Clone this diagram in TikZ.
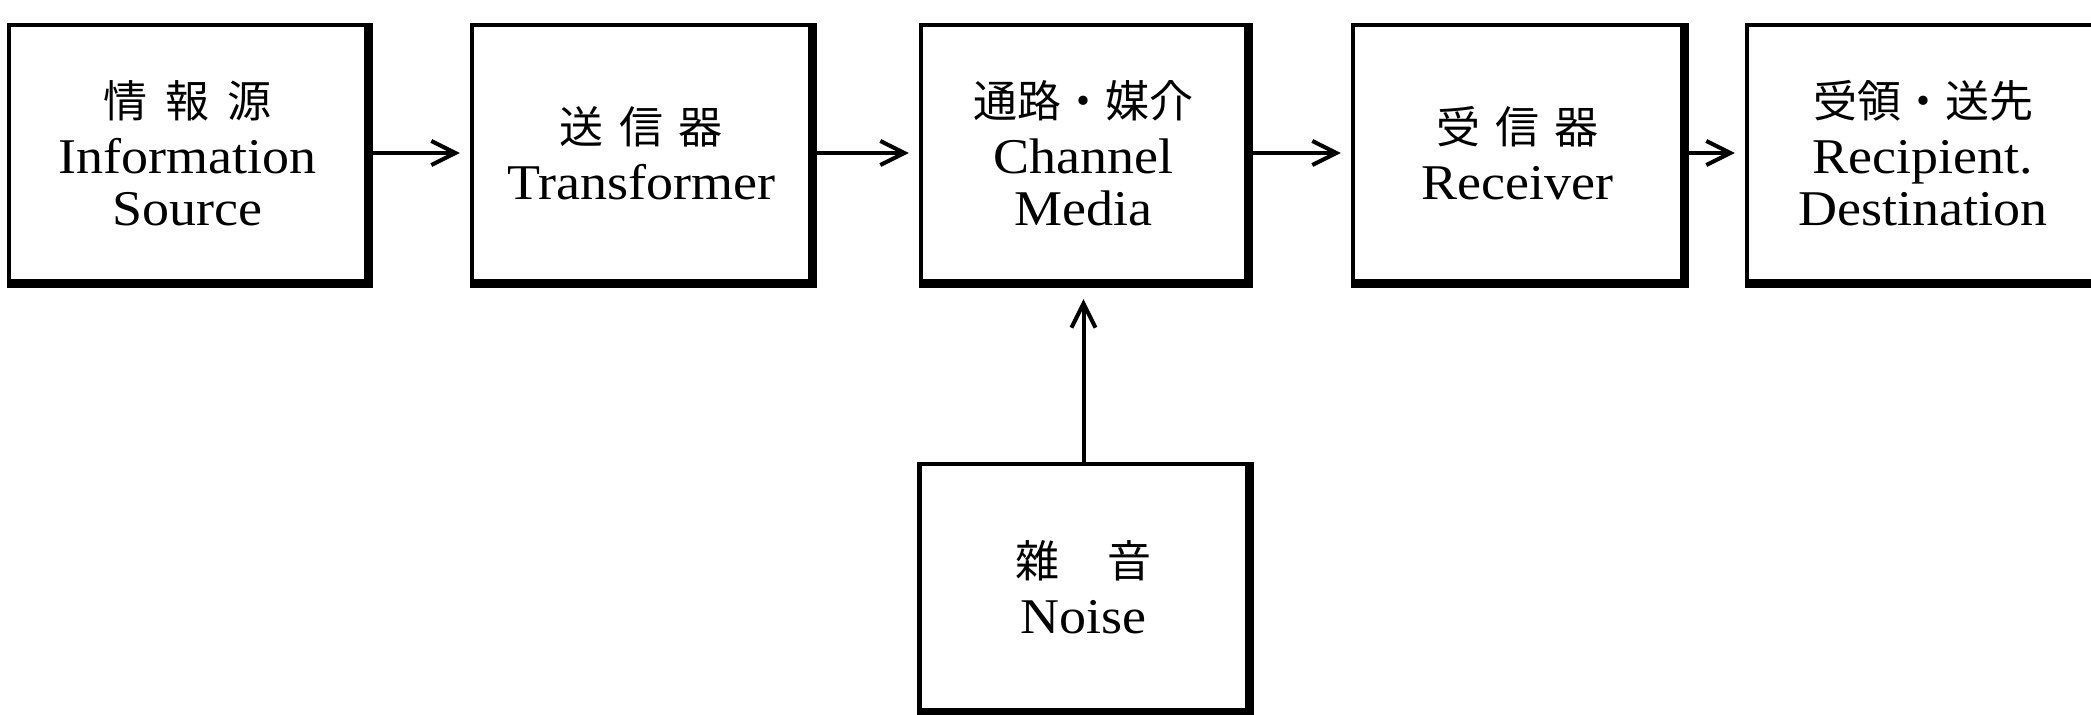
\documentclass[tikz,border=0pt]{standalone}
\usepackage{fontspec}
\setmainfont[FakeStretch=1.08]{Liberation Serif}
\newfontfamily\jpfont{Noto Sans CJK JP}
\newcommand{\jp}{\jpfont\fontsize{22}{26}\selectfont}
\usetikzlibrary{arrows.meta}

\begin{document}
\begin{tikzpicture}[auto,x=1pt,y=1pt,
                    >={Straight Barb[length=12pt,width=12pt]},
                    main node/.style={rectangle,draw,line width=2.2pt,minimum height=128pt,
                                      align=center,font=\fontsize{25}{26}\selectfont}]

  \useasboundingbox (0,0) rectangle (1045.5,-357);

  \node[main node,minimum width=178.5pt] (1) at (93.75,-76.5)
    {{\jp 情\hspace{.4em}報\hspace{.4em}源}\\[2pt] Information\\ Source};
  \node[main node,minimum width=169pt] (2) [right of=1,node distance=226.75pt]
    {{\jp 送\hspace{.35em}信\hspace{.35em}器}\\[2pt] Transformer};
  \node[main node,minimum width=162.5pt] (3) [right of=2,node distance=221.25pt]
    {{\jp 通路・媒介}\\[2pt] Channel\\ Media};
  \node[main node,minimum width=164.5pt] (4) [right of=3,node distance=217pt]
    {{\jp 受\hspace{.35em}信\hspace{.35em}器}\\[2pt] Receiver};
  \node[main node,minimum width=176pt] (5) [right of=4,node distance=202.75pt]
    {{\jp 受領・送先}\\[2pt] Recipient.\\ Destination};
  \node[main node,minimum width=164pt,minimum height=123pt] (6) [below of=3,node distance=217pt]
    {{\jp 雜\hspace{1.1em}音}\\[2pt] Noise};

  % heavier right and bottom edges
  \foreach \n in {1,...,6}
    \draw[line width=4.5pt] (\n.north east) -- (\n.south east) -- (\n.south west);

  \path[->,line width=2pt,shorten >=5pt]
    (1) edge (2)
    (2) edge (3)
    (3) edge (4)
    (4) edge (5);
  \path[->,line width=2pt,shorten >=8pt]
    (6) edge (3);
\end{tikzpicture}
\end{document}
